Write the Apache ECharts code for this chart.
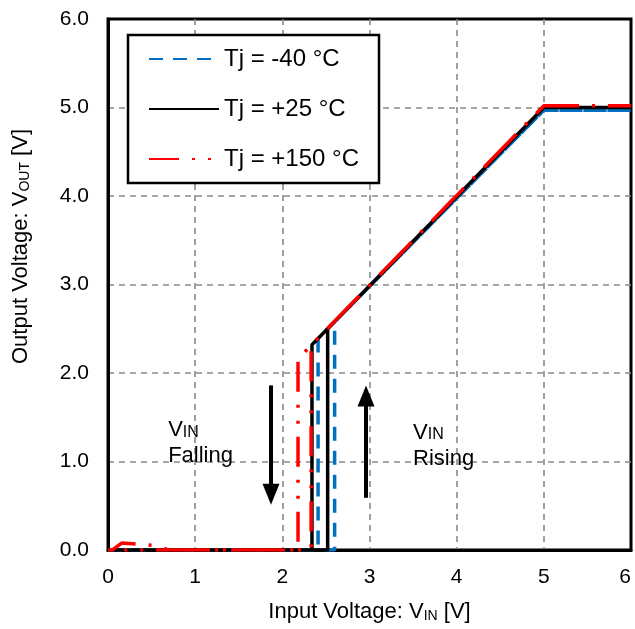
<!DOCTYPE html>
<html>
<head>
<meta charset="utf-8">
<script src="https://cdn.jsdelivr.net/npm/echarts@6/dist/echarts.min.js"></script>
<style>
html,body{margin:0;padding:0;background:#fff;}
#main{width:635px;height:629px;}
</style>
</head>
<body>
<div id="main"></div>
<script>
// Series names
const seriesNames = ['Tj = -40 °C', 'Tj = +25 °C', 'Tj = +150 °C'];

// Tj = -40 °C : rising then falling sweep
const vinNeg40  = [0, 2.60, 2.60, 5.00, 6.00, 6.00, 5.00, 2.41, 2.41, 0];
const voutNeg40 = [0, 0,    2.58, 4.97, 4.97, 4.97, 4.97, 2.39, 0,    0];

// Tj = +25 °C
const vin25  = [0, 2.52, 2.52, 5.00, 6.00, 6.00, 5.00, 2.34, 2.34, 0];
const vout25 = [0, 0,    2.50, 5.00, 5.00, 5.00, 5.00, 2.32, 0,    0];

// Tj = +150 °C
const vin150  = [0, 0.05, 0.16, 0.54, 0.70, 2.33, 2.33, 5.00, 6.00, 6.00, 5.00, 2.18, 2.18, 0];
const vout150 = [0, 0,    0.08, 0.05, 0,    0,    2.31, 5.02, 5.02, 5.02, 5.02, 2.16, 0,    0];

// Axis ticks
const xTicks = [0, 1, 2, 3, 4, 5, 6];
const yTicks = [0, 1, 2, 3, 4, 5, 6];

// Annotation arrows (data coords): [x, yStart, yEnd]
const fallingArrow = [1.87, 1.86, 0.63];
const risingArrow  = [2.96, 0.59, 1.74];
// Annotation text anchors (data coords, left/middle of text block)
const fallingText = [0.69, 1.21];
const risingText  = [3.50, 1.18];

function zip(xs, ys){ return xs.map((x,i)=>[x, ys[i]]); }

const FONT = '"Liberation Sans", Arial, sans-serif';
const chart = echarts.init(document.getElementById('main'), null, {renderer:'canvas'});

const gridLine = {show:true, showMinLine:false, showMaxLine:false,
  lineStyle:{color:'#8a8a8a', width:1.6, type:[6,5]}};

const option = {
  backgroundColor:'#fff',
  animation:false,
  textStyle:{fontFamily:FONT, color:'#000'},
  grid:{left:108, right:4, top:19, bottom:79, containLabel:false, outerBoundsMode:'none',
        show:true, borderColor:'#000', borderWidth:3, backgroundColor:'#fff'},
  xAxis:{
    type:'value', min:xTicks[0], max:xTicks[xTicks.length-1], interval:1,
    axisLine:{show:true, onZero:false, lineStyle:{color:'#000', width:3}},
    axisTick:{show:false},
    splitLine:gridLine,
    axisLabel:{fontSize:21, color:'#000', margin:17, fontFamily:FONT, alignMaxLabel:'right'},
    name:'Input Voltage: V{s|IN} [V]',
    nameLocation:'middle', nameGap:50,
    nameTextStyle:{fontSize:22, color:'#000', fontFamily:FONT,
      rich:{s:{fontSize:14, color:'#000', fontFamily:FONT, verticalAlign:'bottom', padding:[9,0,0,0]}}}
  },
  yAxis:{
    type:'value', min:yTicks[0], max:yTicks[yTicks.length-1], interval:1,
    axisLine:{show:true, onZero:false, lineStyle:{color:'#000', width:3}},
    axisTick:{show:false},
    splitLine:gridLine,
    axisLabel:{fontSize:21, color:'#000', margin:19, fontFamily:FONT, formatter:v=>v.toFixed(1)},
    name:'Output Voltage: V{s|OUT} [V]',
    nameLocation:'middle', nameGap:76,
    nameTextStyle:{fontSize:22, color:'#000', fontFamily:FONT, padding:[0,0,0,76],
      rich:{s:{fontSize:14, color:'#000', fontFamily:FONT, verticalAlign:'bottom', padding:[9,0,0,0]}}}
  },
  legend:{
    orient:'vertical', left:128, top:35,
    backgroundColor:'#fff', borderColor:'#000', borderWidth:2.5,
    padding:[12,20,12,20], itemGap:26, itemWidth:70, itemHeight:18,
    itemStyle:{opacity:0},
    textStyle:{fontSize:24, color:'#000', fontFamily:FONT, padding:[0,0,0,0]},
    data:seriesNames
  },
  series:[
    {name:seriesNames[0], type:'line', data:zip(vinNeg40, voutNeg40), symbol:'none', z:3,
     lineStyle:{color:'#0070C0', width:3.5, type:[14,10]}, itemStyle:{color:'#0070C0'}},
    {name:seriesNames[1], type:'line', data:zip(vin25, vout25), symbol:'none', z:4,
     lineStyle:{color:'#000', width:3.5, type:'solid'}, itemStyle:{color:'#000'}},
    {name:seriesNames[2], type:'line', data:zip(vin150, vout150), symbol:'none', z:5,
     lineStyle:{color:'#FF0000', width:3.5, type:[30,13,3,13,3,13]}, itemStyle:{color:'#FF0000'}},
    {type:'line', data:[], symbol:'none', silent:true, z:6,
     markLine:{silent:true, animation:false, symbol:['none','triangle'], symbolSize:[17,21],
       label:{show:false},
       lineStyle:{color:'#000', width:4, type:'solid'},
       emphasis:{disabled:true},
       data:[
         [{coord:[fallingArrow[0], fallingArrow[1]]},{coord:[fallingArrow[0], fallingArrow[2]]}],
         [{coord:[risingArrow[0], risingArrow[1]]},{coord:[risingArrow[0], risingArrow[2]]}]
       ]}},
    {type:'scatter', symbol:'circle', symbolSize:0, silent:true, z:7,
     itemStyle:{color:'#000', opacity:1},
     emphasis:{disabled:true},
     data:[
       {value:fallingText, label:{formatter:'{a|V}{b|IN}\n{a|Falling}'}},
       {value:risingText, label:{formatter:'{a|V}{b|IN}\n{a|Rising}'}}
     ],
     label:{show:true, position:'right', distance:0, align:'left', verticalAlign:'middle', fontFamily:FONT, color:'#000',
       lineHeight:26, opacity:1,
       rich:{a:{fontSize:22, fontFamily:FONT, color:'#000', lineHeight:26},
             b:{fontSize:16, fontFamily:FONT, color:'#000', lineHeight:26, padding:[5,0,0,0]}}}}
  ]
};
chart.setOption(option);
</script>
</body>
</html>
